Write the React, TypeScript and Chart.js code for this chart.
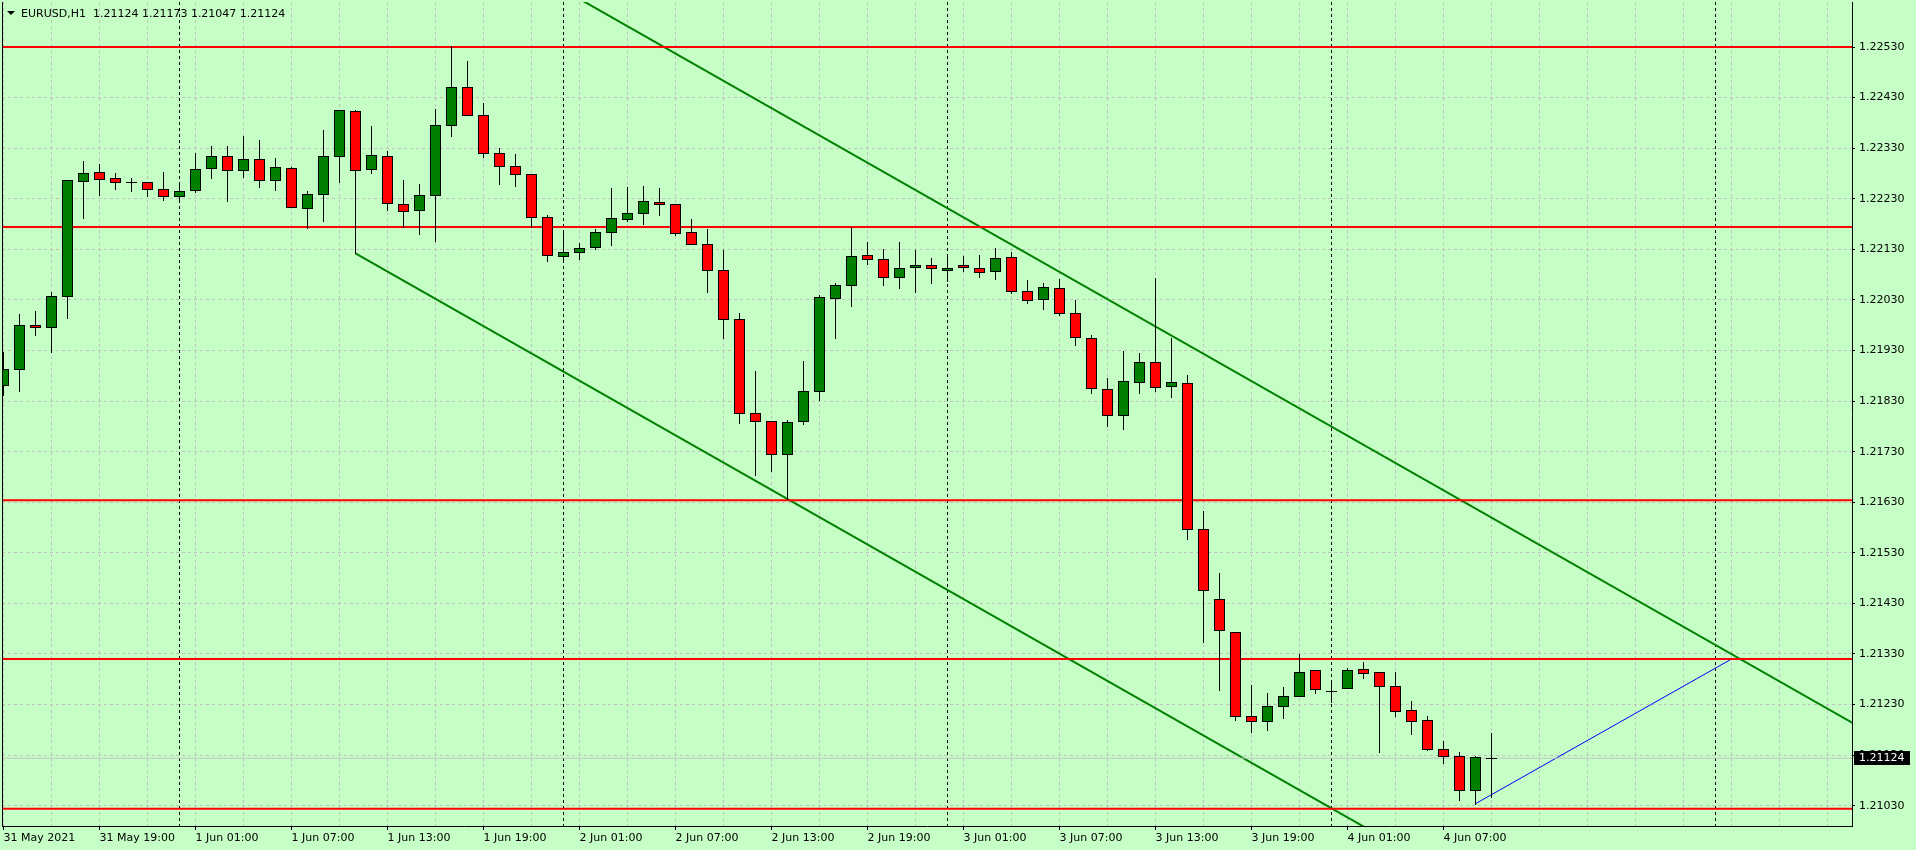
import React, { useEffect, useRef } from 'react';
import { Chart, registerables } from 'chart.js';

Chart.register(...registerables);

// ---------- data ----------
const SYMBOL = 'EURUSD,H1';

// hourly bars, index 0 = 31 May 2021 13:00
const TIME_LABELS = [
  '31 May 2021', '31 May 19:00', '1 Jun 01:00', '1 Jun 07:00', '1 Jun 13:00', '1 Jun 19:00',
  '2 Jun 01:00', '2 Jun 07:00', '2 Jun 13:00', '2 Jun 19:00', '3 Jun 01:00', '3 Jun 07:00',
  '3 Jun 13:00', '3 Jun 19:00', '4 Jun 01:00', '4 Jun 07:00',
];

const OPEN = [
  1.21861, 1.21893, 1.21980, 1.21976, 1.22037, 1.22266, 1.22282, 1.22272, 1.22263, 1.22263,
  1.22249, 1.22235, 1.22247, 1.22290, 1.22314, 1.22286, 1.22308, 1.22268, 1.22290, 1.22211,
  1.22239, 1.22314, 1.22403, 1.22288, 1.22314, 1.22219, 1.22207, 1.22237, 1.22375, 1.22450,
  1.22395, 1.22320, 1.22294, 1.22278, 1.22193, 1.22116, 1.22124, 1.22134, 1.22164, 1.22189,
  1.22201, 1.22223, 1.22219, 1.22164, 1.22140, 1.22089, 1.21992, 1.21806, 1.21790, 1.21725,
  1.21790, 1.21849, 1.22034, 1.22059, 1.22118, 1.22110, 1.22075, 1.22095, 1.22099, 1.22089,
  1.22099, 1.22093, 1.22087, 1.22114, 1.22047, 1.22031, 1.22053, 1.22004, 1.21954, 1.21853,
  1.21802, 1.21867, 1.21907, 1.21859, 1.21865, 1.21577, 1.21439, 1.21374, 1.21208, 1.21197,
  1.21228, 1.21246, 1.21298, 1.21257, 1.21262, 1.21300, 1.21294, 1.21266, 1.21219, 1.21199,
  1.21143, 1.21129, 1.21062, 1.21124,
];
const HIGH = [
  1.21927, 1.22002, 1.22008, 1.22046, 1.22268, 1.22305, 1.22299, 1.22280, 1.22271, 1.22263,
  1.22283, 1.22263, 1.22320, 1.22334, 1.22334, 1.22354, 1.22346, 1.22311, 1.22292, 1.22245,
  1.22366, 1.22406, 1.22406, 1.22374, 1.22324, 1.22267, 1.22259, 1.22407, 1.22532, 1.22502,
  1.22420, 1.22331, 1.22318, 1.22279, 1.22197, 1.22168, 1.22142, 1.22170, 1.22251, 1.22253,
  1.22255, 1.22251, 1.22219, 1.22189, 1.22170, 1.22128, 1.22005, 1.21889, 1.21790, 1.21792,
  1.21909, 1.22039, 1.22063, 1.22175, 1.22144, 1.22130, 1.22144, 1.22128, 1.22112, 1.22120,
  1.22117, 1.22118, 1.22132, 1.22124, 1.22069, 1.22063, 1.22071, 1.22030, 1.21961, 1.21876,
  1.21929, 1.21925, 1.22073, 1.21955, 1.21882, 1.21613, 1.21490, 1.21374, 1.21269, 1.21253,
  1.21265, 1.21329, 1.21298, 1.21277, 1.21302, 1.21314, 1.21294, 1.21294, 1.21238, 1.21207,
  1.21158, 1.21137, 1.21128, 1.21173,
];
const LOW = [
  1.21843, 1.21849, 1.21961, 1.21927, 1.21995, 1.22191, 1.22237, 1.22250, 1.22246, 1.22236,
  1.22228, 1.22223, 1.22243, 1.22272, 1.22226, 1.22274, 1.22253, 1.22248, 1.22213, 1.22172,
  1.22187, 1.22264, 1.22122, 1.22280, 1.22208, 1.22175, 1.22160, 1.22147, 1.22355, 1.22395,
  1.22313, 1.22260, 1.22256, 1.22175, 1.22106, 1.22109, 1.22111, 1.22130, 1.22139, 1.22187,
  1.22181, 1.22197, 1.22158, 1.22140, 1.22046, 1.21955, 1.21786, 1.21683, 1.21692, 1.21636,
  1.21784, 1.21833, 1.21955, 1.22017, 1.22101, 1.22059, 1.22053, 1.22046, 1.22063, 1.22068,
  1.22087, 1.22076, 1.22071, 1.22043, 1.22023, 1.22013, 1.22000, 1.21940, 1.21846, 1.21781,
  1.21775, 1.21845, 1.21849, 1.21839, 1.21558, 1.21354, 1.21259, 1.21199, 1.21175, 1.21180,
  1.21204, 1.21246, 1.21252, 1.21236, 1.21262, 1.21282, 1.21137, 1.21208, 1.21172, 1.21141,
  1.21115, 1.21042, 1.21034, 1.21047,
];
const CLOSE = [
  1.21893, 1.21980, 1.21976, 1.22037, 1.22268, 1.22280, 1.22270, 1.22263, 1.22263, 1.22249,
  1.22235, 1.22245, 1.22288, 1.22314, 1.22286, 1.22308, 1.22268, 1.22292, 1.22213, 1.22239,
  1.22314, 1.22405, 1.22286, 1.22316, 1.22221, 1.22205, 1.22237, 1.22375, 1.22450, 1.22395,
  1.22320, 1.22294, 1.22278, 1.22193, 1.22118, 1.22124, 1.22132, 1.22164, 1.22191, 1.22201,
  1.22225, 1.22219, 1.22162, 1.22140, 1.22089, 1.21992, 1.21806, 1.21790, 1.21725, 1.21788,
  1.21849, 1.22035, 1.22059, 1.22116, 1.22110, 1.22075, 1.22093, 1.22099, 1.22093, 1.22093,
  1.22095, 1.22085, 1.22113, 1.22047, 1.22029, 1.22055, 1.22004, 1.21956, 1.21855, 1.21802,
  1.21869, 1.21907, 1.21857, 1.21867, 1.21577, 1.21456, 1.21377, 1.21208, 1.21197, 1.21228,
  1.21246, 1.21294, 1.21260, 1.21257, 1.21298, 1.21292, 1.21266, 1.21217, 1.21197, 1.21143,
  1.21129, 1.21062, 1.21126, 1.21124,
];

const PRICE_TICKS = [
  1.2103, 1.2113, 1.2123, 1.2133, 1.2143, 1.2153, 1.2163, 1.2173,
  1.2183, 1.2193, 1.2203, 1.2213, 1.2223, 1.2233, 1.2243, 1.2253,
];

// horizontal support / resistance levels
const LEVELS = [1.2253, 1.22174, 1.21634, 1.2132, 1.21024];
// channel and trend lines (x = bar index, y = price)
const UPPER_CHANNEL = [{ x: 36, y: 1.22625 }, { x: 116, y: 1.21186 }];
const LOWER_CHANNEL = [{ x: 22, y: 1.22122 }, { x: 90, y: 1.20899 }];
const BLUE_LINE = [{ x: 92, y: 1.21034 }, { x: 108, y: 1.2132 }];
// bars that open a new day (00:00)
const DAY_SEPARATORS = [11, 35, 59, 83, 107];
const LAST_PRICE = 1.21124;
const HEADER_VALUES = [1.21124, 1.21173, 1.21047, 1.21124];

// visible window
const VIEW_X = [-0.09375, 115.53125];
const VIEW_Y = [1.209899, 1.22619];
const GRID_STEP = 3;
const LABEL_STEP = 6;

// ---------- styles ----------
const BG = '#C6FFC6';
const GRID = '#C0C0C0';
const BULL = '#008000';
const BEAR = '#FF0000';
const FONT = "11px 'DejaVu Sans'";

const mtPlugin = {
  id: 'mt4look',
  beforeDraw(chart: any) {
    const ctx = chart.ctx;
    ctx.save();
    ctx.fillStyle = BG;
    ctx.fillRect(0, 0, chart.width, chart.height);
    ctx.restore();
  },
  beforeDatasetsDraw(chart: any) {
    const { ctx, chartArea } = chart;
    const xs = chart.scales.x;
    ctx.save();
    ctx.strokeStyle = '#000';
    ctx.lineWidth = 1;
    ctx.setLineDash([3, 3]);
    DAY_SEPARATORS.forEach((b) => {
      const px = Math.floor(xs.getPixelForValue(b)) + 0.5;
      if (px < chartArea.left || px > chartArea.right) return;
      ctx.beginPath();
      ctx.moveTo(px, chartArea.top);
      ctx.lineTo(px, chartArea.bottom);
      ctx.stroke();
    });
    ctx.restore();
  },
  afterDatasetsDraw(chart: any) {
    const { ctx, chartArea } = chart;
    const xs = chart.scales.x;
    const ys = chart.scales.y;
    ctx.save();
    ctx.beginPath();
    ctx.rect(chartArea.left, chartArea.top, chartArea.right - chartArea.left, chartArea.bottom - chartArea.top);
    ctx.clip();
    for (let i = 0; i < OPEN.length; i++) {
      const cx = Math.floor(xs.getPixelForValue(i));
      const yo = Math.round(ys.getPixelForValue(OPEN[i]));
      const yc = Math.round(ys.getPixelForValue(CLOSE[i]));
      const yh = Math.round(ys.getPixelForValue(HIGH[i]));
      const yl = Math.round(ys.getPixelForValue(LOW[i]));
      ctx.fillStyle = '#000';
      ctx.fillRect(cx, yh, 1, yl - yh + 1);
      const top = Math.min(yo, yc);
      const bot = Math.max(yo, yc);
      if (bot - top < 1) {
        ctx.fillRect(cx - 5, top, 11, 1);
      } else {
        ctx.fillRect(cx - 5, top, 11, bot - top + 1);
        if (bot - top > 1) {
          ctx.fillStyle = CLOSE[i] > OPEN[i] ? BULL : BEAR;
          ctx.fillRect(cx - 4, top + 1, 9, bot - top - 1);
        }
      }
    }
    ctx.restore();
    // left frame
    ctx.save();
    ctx.strokeStyle = '#000';
    ctx.lineWidth = 1;
    ctx.beginPath();
    ctx.moveTo(chartArea.left + 0.5, chartArea.top);
    ctx.lineTo(chartArea.left + 0.5, chartArea.bottom);
    ctx.stroke();
    ctx.restore();
  },
  afterDraw(chart: any) {
    const { ctx, chartArea } = chart;
    const ys = chart.scales.y;
    ctx.save();
    // header
    ctx.fillStyle = '#000';
    ctx.beginPath();
    ctx.moveTo(chartArea.left + 5, 11);
    ctx.lineTo(chartArea.left + 13, 11);
    ctx.lineTo(chartArea.left + 9, 15);
    ctx.closePath();
    ctx.fill();
    ctx.font = FONT;
    ctx.textBaseline = 'alphabetic';
    ctx.textAlign = 'left';
    ctx.fillText(SYMBOL + '  ' + HEADER_VALUES.map((v) => v.toFixed(5)).join(' '), chartArea.left + 19, 17);
    // last price tag
    const yy = Math.round(ys.getPixelForValue(LAST_PRICE));
    ctx.fillStyle = '#000';
    ctx.fillRect(chartArea.right + 2, yy - 7, 56, 14);
    ctx.fillStyle = '#FFFFFF';
    ctx.textBaseline = 'middle';
    ctx.fillText(LAST_PRICE.toFixed(5), chartArea.right + 7, yy);
    ctx.restore();
  },
};

function levelData(p: number) {
  return [{ x: -1, y: p }, { x: 120, y: p }];
}

export default function App() {
  const ref = useRef<HTMLCanvasElement | null>(null);

  useEffect(() => {
    if (!ref.current) return;
    Chart.defaults.font.family = "'DejaVu Sans'";
    Chart.defaults.font.size = 11;
    Chart.defaults.color = '#000';

    const lineDs = (data: any[], color: string, width: number) => ({
      type: 'line' as const,
      data,
      borderColor: color,
      backgroundColor: color,
      borderWidth: width,
      pointRadius: 0,
      fill: false,
      tension: 0,
      clip: 0,
    });

    const datasets: any[] = [
      lineDs(levelData(LAST_PRICE), GRID, 1),
      ...LEVELS.map((p) => lineDs(levelData(p), '#FF0000', 2)),
      lineDs(UPPER_CHANNEL, '#008000', 2),
      lineDs(LOWER_CHANNEL, '#008000', 2),
      lineDs(BLUE_LINE, '#0000FF', 1),
    ];

    const chart = new Chart(ref.current, {
      type: 'line',
      data: { datasets },
      plugins: [mtPlugin],
      options: {
        animation: false,
        responsive: false,
        devicePixelRatio: 1,
        events: [],
        layout: { padding: { left: 2, top: 2, right: 0, bottom: 0 } },
        plugins: { legend: { display: false }, tooltip: { enabled: false }, title: { display: false } },
        scales: {
          x: {
            type: 'linear',
            position: 'bottom',
            min: VIEW_X[0],
            max: VIEW_X[1],
            afterBuildTicks: (axis: any) => {
              const t: any[] = [];
              for (let v = 0; v <= VIEW_X[1]; v += GRID_STEP) t.push({ value: v });
              axis.ticks = t;
            },
            afterFit: (axis: any) => {
              axis.height = 24;
              axis.paddingLeft = 0;
              axis.paddingRight = 0;
              axis.paddingTop = 0;
              axis.paddingBottom = 0;
            },
            ticks: {
              autoSkip: false,
              maxRotation: 0,
              minRotation: 0,
              align: 'start',
              padding: 2,
              color: '#000',
              font: { family: "'DejaVu Sans'", size: 11 },
              callback: (v: any) => {
                const n = Number(v);
                const k = n / LABEL_STEP;
                return n % LABEL_STEP === 0 && k < TIME_LABELS.length ? TIME_LABELS[k] : '';
              },
            },
            grid: {
              color: GRID,
              lineWidth: 1,
              tickLength: 4,
              tickBorderDash: [],
              tickColor: (c: any) => {
                const n = c.tick ? Number(c.tick.value) : -1;
                return n >= 0 && n % LABEL_STEP === 0 && n / LABEL_STEP < TIME_LABELS.length ? '#000' : 'rgba(0,0,0,0)';
              },
            },
            border: { display: true, color: '#000', width: 1, dash: [3, 3] },
          },
          y: {
            type: 'linear',
            position: 'right',
            min: VIEW_Y[0],
            max: VIEW_Y[1],
            afterBuildTicks: (axis: any) => {
              axis.ticks = PRICE_TICKS.map((v) => ({ value: v }));
            },
            afterFit: (axis: any) => {
              axis.width = 64;
              axis.paddingLeft = 0;
              axis.paddingRight = 0;
              axis.paddingTop = 0;
              axis.paddingBottom = 0;
            },
            ticks: {
              autoSkip: false,
              padding: 4,
              color: '#000',
              font: { family: "'DejaVu Sans'", size: 11 },
              callback: (v: any) => Number(v).toFixed(5),
            },
            grid: { color: GRID, lineWidth: 1, tickLength: 3, tickColor: '#000', tickBorderDash: [] },
            border: { display: true, color: '#000', width: 1, dash: [3, 3] },
          },
        },
      } as any,
    });
    return () => chart.destroy();
  }, []);

  return (
    <div style={{ position: 'fixed', left: 0, top: 0, width: 1916, height: 850, background: BG }}>
      <canvas ref={ref} width={1916} height={850} style={{ display: 'block', width: 1916, height: 850 }} />
    </div>
  );
}
